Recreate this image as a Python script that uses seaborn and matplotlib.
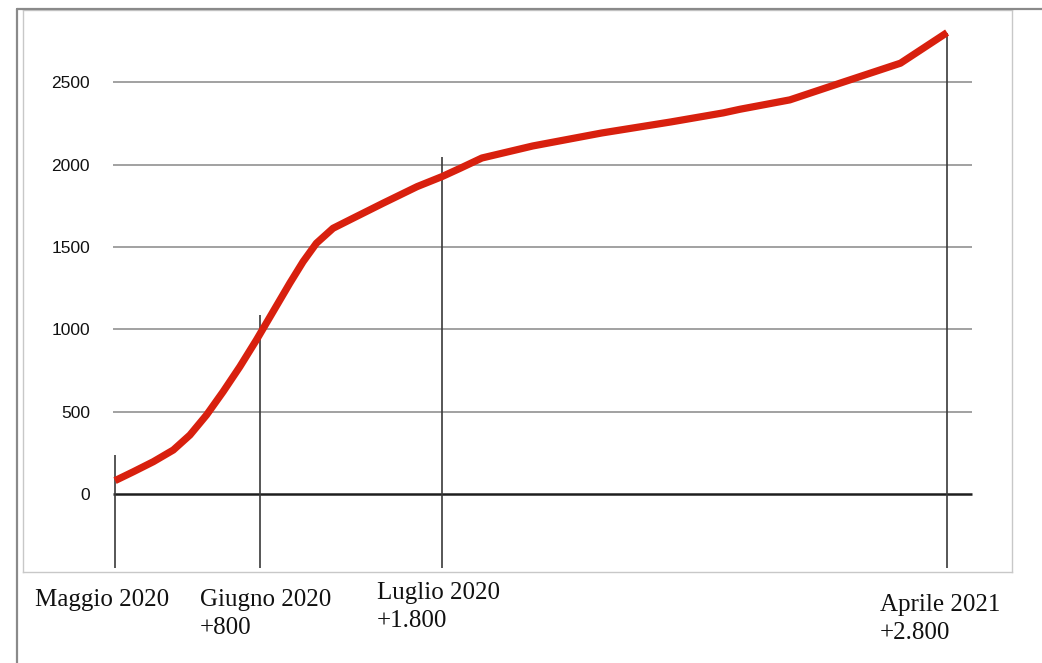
import matplotlib.pyplot as plt
import matplotlib.transforms as mtransforms
from matplotlib.lines import Line2D
import seaborn as sns
import pandas as pd

# Data (x is position along the timeline, 0 = Maggio 2020, 100 = Aprile 2021)
curve_x = [0, 2.2, 4.6, 7.0, 9.0, 11.0, 13.0, 15.0, 17.0, 19.0, 21.0, 22.6,
           24.2, 26.2, 28.6, 32.2, 36.3, 39.3, 41.5, 44.1, 50.2, 58.5, 66.8,
           73.1, 75.1, 81.1, 87.1, 94.4, 100]
curve_y = [81, 135, 196, 267, 358, 480, 622, 773, 936, 1108, 1280, 1411,
           1523, 1614, 1675, 1766, 1867, 1928, 1979, 2041, 2114, 2193, 2260,
           2315, 2337, 2394, 2495, 2617, 2803]

mark_x = [0, 17.4, 39.3, 100]
mark_top = [237, 1087, 2045, 2803]
mark_labels = ['Maggio 2020', 'Giugno 2020\n+800', 'Luglio 2020\n+1.800', 'Aprile 2021\n+2.800']
label_x = [-9.6, 10.2, 31.5, 91.9]
label_top = [-0.030, -0.030, -0.018, -0.040]

y_ticks = [0, 500, 1000, 1500, 2000, 2500]

df = pd.DataFrame({'x': curve_x, 'y': curve_y})

sns.set_theme(style='white')
plt.rcParams['font.family'] = ['Liberation Sans', 'DejaVu Sans']

fig = plt.figure(figsize=(10.42, 6.63), dpi=100)
ax = fig.add_axes([23 / 1042, 1 - 572 / 663, 989 / 1042, 562 / 663])

ax.set_xlim(-11.06, 107.8)
ax.set_ylim(-474, 2940)

# grid lines
ax.hlines([t for t in y_ticks if t > 0], -0.3, 103, color='#9a9a9a', linewidth=1.3, zorder=1)
ax.hlines(0, -0.3, 103, color='#1e1e1e', linewidth=1.8, zorder=2)

# vertical markers
ax.vlines(mark_x, -450, mark_top, color='#3a3a3a', linewidth=1.2, zorder=2)

sns.lineplot(data=df, x='x', y='y', ax=ax, color='#d8200e', linewidth=5.2,
             solid_capstyle='butt', solid_joinstyle='round', zorder=3)

ax.set_xticks([])
ax.set_yticks(y_ticks)
ax.set_yticklabels([str(t) for t in y_ticks])
ax.tick_params(axis='y', length=0, pad=-48.2, labelsize=12.5, labelcolor='#111111')
ax.set_xlabel('')
ax.set_ylabel('')

for s in ax.spines.values():
    s.set_color('#c8c8c8')
    s.set_linewidth(1.0)

trans = mtransforms.blended_transform_factory(ax.transData, ax.transAxes)
for lx, ly, txt in zip(label_x, label_top, mark_labels):
    ax.text(lx, ly, txt, transform=trans, ha='left', va='top',
            fontsize=18, family=['Liberation Serif', 'DejaVu Serif'],
            color='#111111', linespacing=1.35, clip_on=False)

# outer frame
fig.add_artist(Line2D([17 / 1042, 1], [1 - 9 / 663, 1 - 9 / 663],
                      transform=fig.transFigure, color='#8a8a8a', linewidth=1.6))
fig.add_artist(Line2D([17 / 1042, 17 / 1042], [0, 1 - 9 / 663],
                      transform=fig.transFigure, color='#8a8a8a', linewidth=1.6))

fig.savefig('out.png', dpi=100)
